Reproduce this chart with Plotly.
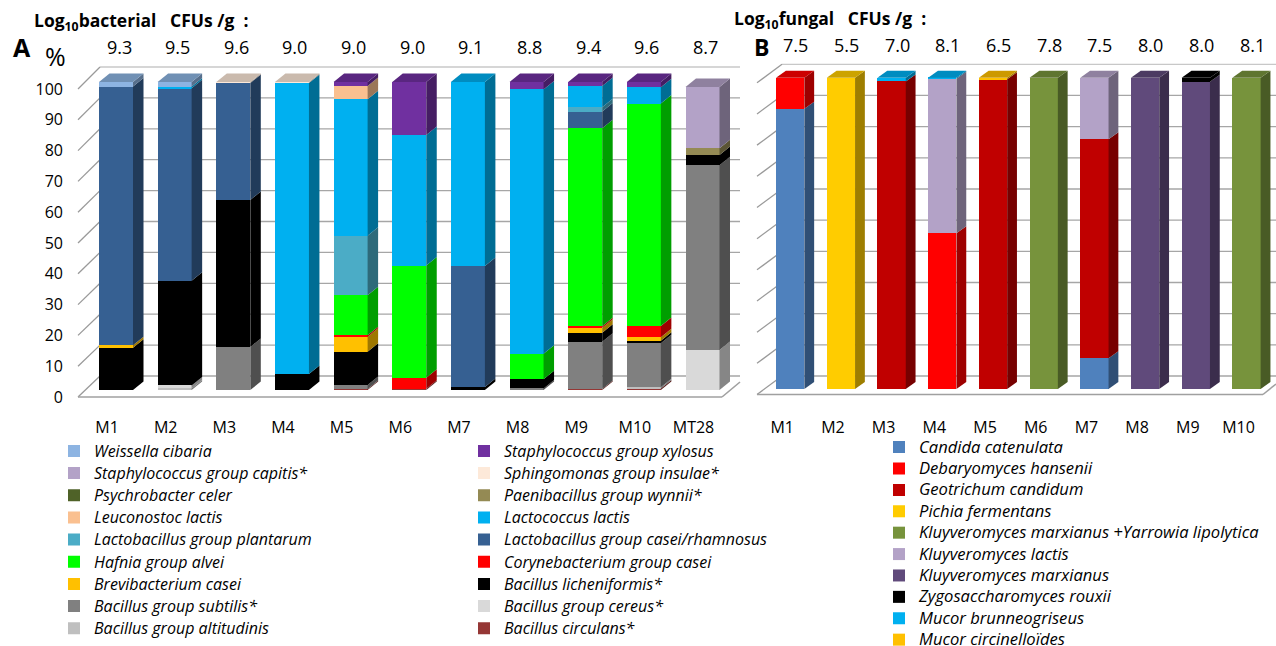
import plotly.graph_objects as go

W, H = 1276, 646

# ---------------- DATA ----------------
bact_samples = ["M1", "M2", "M3", "M4", "M5", "M6", "M7", "M8", "M9", "M10", "MT28"]
bact_log10 = [9.3, 9.5, 9.6, 9.0, 9.0, 9.0, 9.1, 8.8, 9.4, 9.6, 8.7]

# bacterial composition (%) per sample, listed bottom -> top of the stack
b_circulans = [0, 0, 0, 0, 0.3, 0.4, 0, 0, 0.3, 0.5, 0]
b_altitudinis = [0, 0.5, 0, 0, 0, 0, 0, 0, 0, 0.4, 0]
b_cereus = [0, 1.0, 0, 0, 0, 0, 0, 0, 0, 0, 13.0]
b_subtilis = [0, 0, 14.0, 0, 1.3, 0, 0, 0.5, 15.4, 14.3, 60.0]
b_licheniformis = [13.7, 34.0, 47.7, 5.2, 10.8, 0, 1.0, 3.0, 2.9, 0.8, 3.3]
b_brevibacterium = [0.8, 0, 0, 0, 4.9, 0, 0, 0, 1.6, 1.1, 0]
b_corynebacterium = [0, 0, 0, 0, 0.5, 3.6, 0, 0, 0.5, 3.7, 0]
b_hafnia = [0, 0, 0, 0, 13.0, 36.4, 0, 8.3, 64.3, 72.2, 0]
b_lb_casei = [84.0, 62.5, 38.0, 0, 0, 0, 39.3, 0, 5.4, 0, 0]
b_lb_plantarum = [0, 0, 0, 0, 19.3, 0, 0, 0, 1.4, 0, 0]
b_lactococcus = [0, 0.5, 0, 94.5, 44.3, 42.4, 59.7, 85.8, 6.9, 5.3, 0]
b_leuconostoc = [0, 0, 0, 0, 4.3, 0, 0, 0, 0, 0, 0]
b_paenibacillus = [0, 0, 0, 0, 0, 0, 0, 0, 0, 0, 2.2]
b_psychrobacter = [0, 0, 0, 0, 0, 0, 0, 0, 0, 0, 0]
b_sphingomonas = [0, 0, 0.3, 0.3, 0, 0, 0, 0, 0, 0, 0]
b_capitis = [0, 0, 0, 0, 0, 0, 0, 0, 0, 0, 19.9]
b_xylosus = [0, 0, 0, 0, 1.3, 17.2, 0, 2.4, 1.3, 1.7, 0]
b_weissella = [1.5, 1.5, 0, 0, 0, 0, 0, 0, 0, 0, 0]

fung_samples = ["M1", "M2", "M3", "M4", "M5", "M6", "M7", "M8", "M9", "M10"]
fung_log10 = [7.5, 5.5, 7.0, 8.1, 6.5, 7.8, 7.5, 8.0, 8.0, 8.1]

# fungal composition (%) per sample, bottom -> top
f_candida = [90.0, 0, 0, 0, 0, 0, 9.9, 0, 0, 0]
f_debaryomyces = [10.0, 0, 0, 50.0, 0, 0, 0, 0, 0, 0]
f_geotrichum = [0, 0, 98.8, 0, 99.5, 0, 70.3, 0, 0, 0]
f_pichia = [0, 100.0, 0, 0, 0, 0, 0, 0, 0, 0]
f_kmarx_yarrowia = [0, 0, 0, 0, 0, 100.0, 0, 0, 0, 100.0]
f_klactis = [0, 0, 0, 49.7, 0, 0, 19.8, 0, 0, 0]
f_kmarxianus = [0, 0, 0, 0, 0, 0, 0, 100.0, 98.7, 0]
f_zygo = [0, 0, 0, 0, 0, 0, 0, 0, 1.3, 0]
f_mucor_brunneo = [0, 0, 1.2, 0.3, 0, 0, 0, 0, 0, 0]
f_mucor_circ = [0, 0, 0, 0, 0.5, 0, 0, 0, 0, 0]

bact_series = [
    ("Bacillus circulans*", b_circulans),
    ("Bacillus group altitudinis", b_altitudinis),
    ("Bacillus group cereus*", b_cereus),
    ("Bacillus group subtilis*", b_subtilis),
    ("Bacillus licheniformis*", b_licheniformis),
    ("Brevibacterium casei", b_brevibacterium),
    ("Corynebacterium group casei", b_corynebacterium),
    ("Hafnia group alvei", b_hafnia),
    ("Lactobacillus group casei/rhamnosus", b_lb_casei),
    ("Lactobacillus group plantarum", b_lb_plantarum),
    ("Lactococcus lactis", b_lactococcus),
    ("Leuconostoc lactis", b_leuconostoc),
    ("Paenibacillus group wynnii*", b_paenibacillus),
    ("Psychrobacter celer", b_psychrobacter),
    ("Sphingomonas group insulae*", b_sphingomonas),
    ("Staphylococcus group capitis*", b_capitis),
    ("Staphylococcus group xylosus", b_xylosus),
    ("Weissella cibaria", b_weissella),
]
fung_series = [
    ("Candida catenulata", f_candida),
    ("Debaryomyces hansenii", f_debaryomyces),
    ("Geotrichum candidum", f_geotrichum),
    ("Pichia fermentans", f_pichia),
    ("Kluyveromyces marxianus +Yarrowia lipolytica", f_kmarx_yarrowia),
    ("Kluyveromyces lactis", f_klactis),
    ("Kluyveromyces marxianus", f_kmarxianus),
    ("Zygosaccharomyces rouxii", f_zygo),
    ("Mucor brunneogriseus", f_mucor_brunneo),
    ("Mucor circinelloïdes", f_mucor_circ),
]

legend_col1 = ["Weissella cibaria", "Staphylococcus group capitis*", "Psychrobacter celer",
               "Leuconostoc lactis", "Lactobacillus group plantarum", "Hafnia group alvei",
               "Brevibacterium casei", "Bacillus group subtilis*", "Bacillus group altitudinis"]
legend_col2 = ["Staphylococcus group xylosus", "Sphingomonas group insulae*", "Paenibacillus group wynnii*",
               "Lactococcus lactis", "Lactobacillus group casei/rhamnosus", "Corynebacterium group casei",
               "Bacillus licheniformis*", "Bacillus group cereus*", "Bacillus circulans*"]

# ---------------- STYLE ----------------
colors = {
    "Weissella cibaria": "#8DB4E2",
    "Staphylococcus group capitis*": "#B3A2C7",
    "Psychrobacter celer": "#4F6228",
    "Leuconostoc lactis": "#FAC090",
    "Lactobacillus group plantarum": "#4BACC6",
    "Hafnia group alvei": "#00FF00",
    "Brevibacterium casei": "#FFC000",
    "Bacillus group subtilis*": "#808080",
    "Bacillus group altitudinis": "#BFBFBF",
    "Staphylococcus group xylosus": "#7030A0",
    "Sphingomonas group insulae*": "#FDE9D9",
    "Paenibacillus group wynnii*": "#948A54",
    "Lactococcus lactis": "#00B0F0",
    "Lactobacillus group casei/rhamnosus": "#366092",
    "Corynebacterium group casei": "#FF0000",
    "Bacillus licheniformis*": "#000000",
    "Bacillus group cereus*": "#D9D9D9",
    "Bacillus circulans*": "#953735",
    "Candida catenulata": "#4F81BD",
    "Debaryomyces hansenii": "#FF0000",
    "Geotrichum candidum": "#C00000",
    "Pichia fermentans": "#FFCC00",
    "Kluyveromyces marxianus +Yarrowia lipolytica": "#77933C",
    "Kluyveromyces lactis": "#B3A2C7",
    "Kluyveromyces marxianus": "#604A7B",
    "Zygosaccharomyces rouxii": "#000000",
    "Mucor brunneogriseus": "#00B0F0",
    "Mucor circinelloïdes": "#FFC000",
}

FONT = "Open Sans, Liberation Sans, Arial, sans-serif"


def shade(hexcol, f):
    h = hexcol.lstrip("#")
    r, g, b = (int(h[i:i + 2], 16) for i in (0, 2, 4))
    return "rgb(%d,%d,%d)" % (int(r * f), int(g * f), int(b * f))


def xp(x):
    return x / W


def yp(y):
    return 1 - y / H


# panel geometry (pixels)
A_left, A_right = 64, 740
A_c0, A_step = 116.0, 58.65
B_left, B_right = 740, 1276
B_c0, B_step = 790.2, 50.7
axis_bottom = 416
A_y0, A_scale = 390.0, 3.08
B_y0, B_scale = 389.0, 3.113

A_width = 34 / A_step
B_width = 28.3 / B_step
A_ddx, A_ddy = 10.5 / A_step, 8.5 / A_scale
B_ddx, B_ddy = 9.8 / B_step, 7.0 / B_scale

fig = go.Figure()

rank1 = {n: i for i, n in enumerate(legend_col1)}
rank2 = {n: i for i, n in enumerate(legend_col2)}


def legend_label(name, size):
    return '<span style="font-size:%.1fpx">%s</span>' % (size, name)


for name, vals in bact_series:
    if name in rank1:
        lg, rk = "legend", rank1[name]
    else:
        lg, rk = "legend2", rank2[name]
    fig.add_trace(go.Bar(
        x=list(range(len(bact_samples))), y=vals, name=legend_label(name, 16),
        marker=dict(color=colors[name], line=dict(width=0)),
        width=A_width, xaxis="x", yaxis="y", legend=lg, legendrank=100 + rk,
        customdata=bact_samples,
        hovertemplate="%{customdata}: %{y}%<extra>" + name + "</extra>",
    ))

for k, (name, vals) in enumerate(fung_series):
    fig.add_trace(go.Bar(
        x=list(range(len(fung_samples))), y=vals, name=legend_label(name, 16.6),
        marker=dict(color=colors[name], line=dict(width=0)),
        width=B_width, xaxis="x2", yaxis="y2", legend="legend3", legendrank=100 + k,
        customdata=fung_samples,
        hovertemplate="%{customdata}: %{y}%<extra>" + name + "</extra>",
    ))

shapes = []


def line_px(x0, y0, x1, y1, color, w):
    shapes.append(dict(type="line", xref="paper", yref="paper",
                       x0=xp(x0), y0=yp(y0), x1=xp(x1), y1=yp(y1),
                       line=dict(color=color, width=w), layer="below"))


# panel A walls / grid
for v in range(0, 101, 10):
    g = 376 - 3.09 * v
    lab = 397 - 3.08 * v
    line_px(100, g, 740, g, "#C8C8C8" if v == 100 else "#A6A6A6", 1.3)
    line_px(78, lab, 100, g, "#9A9A9A", 1.3)
line_px(78, 397, 722, 397, "#A0A0A0", 1.6)
line_px(722, 397, 740, 382, "#A0A0A0", 1.6)

# panel B walls / grid
for v in range(0, 101, 10):
    g = 376 - 3.117 * v
    line_px(782, g, 1276, g, "#C8C8C8" if v == 100 else "#A6A6A6", 1.3)
    line_px(757, g + 18.5, 782, g, "#9A9A9A", 1.3)
line_px(757, 394.5, 1263, 394.5, "#A0A0A0", 1.6)
line_px(1263, 394.5, 1276, 384, "#A0A0A0", 1.6)


def faces(series, n, width, ddx, ddy, xref, yref):
    for i in range(n):
        base = 0.0
        top_col = None
        xr = i + width / 2
        xl = i - width / 2
        for name, vals in series:
            v = vals[i]
            if v <= 0:
                continue
            y0, y1 = base, base + v
            path = "M%f,%f L%f,%f L%f,%f L%f,%f Z" % (
                xr, y0, xr + ddx, y0 + ddy, xr + ddx, y1 + ddy, xr, y1)
            shapes.append(dict(type="path", xref=xref, yref=yref, path=path,
                               fillcolor=shade(colors[name], 0.62),
                               line=dict(width=0), layer="above"))
            base = y1
            top_col = colors[name]
        if top_col is not None:
            path = "M%f,%f L%f,%f L%f,%f L%f,%f Z" % (
                xl, base, xl + ddx, base + ddy, xr + ddx, base + ddy, xr, base)
            shapes.append(dict(type="path", xref=xref, yref=yref, path=path,
                               fillcolor=shade(top_col, 0.8),
                               line=dict(width=0), layer="above"))


faces(bact_series, len(bact_samples), A_width, A_ddx, A_ddy, "x", "y")
faces(fung_series, len(fung_samples), B_width, B_ddx, B_ddy, "x2", "y2")

annotations = []


def text_px(x, y, txt, size, bold=False, anchor="center", xref="paper", xdata=None, xshift=0):
    annotations.append(dict(
        x=xdata if xdata is not None else xp(x), y=yp(y), xref=xref, yref="paper",
        text=("<b>%s</b>" % txt) if bold else txt, showarrow=False,
        xanchor=anchor, yanchor="middle", xshift=xshift,
        font=dict(family=FONT, size=size, color="black")))


text_px(22, 47, "A", 25, bold=True)
text_px(55, 56, "%", 25)
text_px(32, 22, "Log<sub>10</sub>bacterial\u00a0\u00a0 CFUs /g \u00a0:", 17.5, bold=True, anchor="left")
for i, v in enumerate(bact_log10):
    text_px(0, 47, "%.1f" % v, 18, xref="x", xdata=i, xshift=3)

text_px(762, 47, "B", 23, bold=True)
text_px(732, 19, "Log<sub>10</sub>fungal\u00a0\u00a0 CFUs /g \u00a0:", 17.5, bold=True, anchor="left")
for i, v in enumerate(fung_log10):
    text_px(0, 45, "%.1f" % v, 18, xref="x2", xdata=i, xshift=5.5)

# axis ranges from pixel geometry
A_r0 = -(A_c0 - A_left) / A_step
A_r1 = A_r0 + (A_right - A_left) / A_step
B_r0 = -(B_c0 - B_left) / B_step
B_r1 = B_r0 + (B_right - B_left) / B_step
Ay_r1 = A_y0 / A_scale
Ay_r0 = (A_y0 - axis_bottom) / A_scale
By_r1 = B_y0 / B_scale
By_r0 = (B_y0 - axis_bottom) / B_scale

tickfont = dict(family=FONT, size=16, color="black")
common = dict(showgrid=False, zeroline=False, showline=False, ticks="")

legend_font = dict(family=FONT, size=14.75, color="black", style="italic")

fig.update_layout(
    width=W, height=H,
    margin=dict(l=0, r=0, t=0, b=0, pad=0, autoexpand=False),
    paper_bgcolor="white", plot_bgcolor="rgba(0,0,0,0)",
    barmode="stack",
    xaxis=dict(domain=[xp(A_left), xp(A_right)], range=[A_r0, A_r1], anchor="y",
               tickvals=list(range(len(bact_samples))), ticktext=bact_samples,
               ticklabelshift=-9, tickfont=tickfont, **common),
    yaxis=dict(domain=[yp(axis_bottom), 1], range=[Ay_r0, Ay_r1], anchor="x",
               tickvals=list(range(0, 101, 10)), ticklabelshift=7,
               tickfont=tickfont, **common),
    xaxis2=dict(domain=[xp(B_left), 1], range=[B_r0, B_r1], anchor="y2",
                tickvals=list(range(len(fung_samples))), ticktext=fung_samples,
                ticklabelshift=-8, tickfont=tickfont, **common),
    yaxis2=dict(domain=[yp(axis_bottom), 1], range=[By_r0, By_r1], anchor="x2",
                showticklabels=False, **common),
    shapes=shapes,
    annotations=annotations,
    legend=dict(x=xp(54), y=yp(434.8), xanchor="left", yanchor="top",
                traceorder="normal", font=legend_font, bgcolor="rgba(0,0,0,0)"),
    legend2=dict(x=xp(464), y=yp(434.8), xanchor="left", yanchor="top",
                 traceorder="normal", font=legend_font, bgcolor="rgba(0,0,0,0)"),
    legend3=dict(x=xp(879), y=yp(431.4), xanchor="left", yanchor="top",
                 traceorder="normal", font=dict(family=FONT, size=14.15, color="black", style="italic"),
                 bgcolor="rgba(0,0,0,0)"),
    showlegend=True,
)

fig.write_html("out.html", config={"displayModeBar": False},
               post_script="document.body.style.margin='0px';")
